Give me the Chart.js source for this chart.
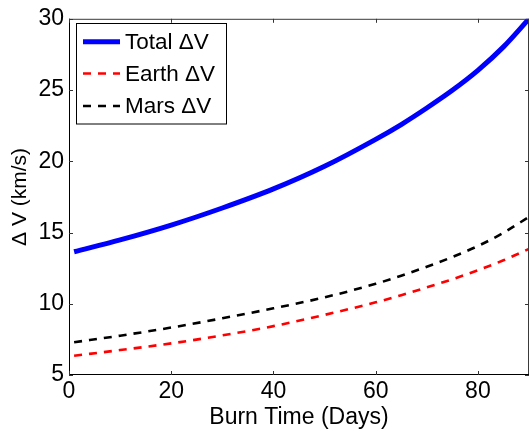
<!DOCTYPE html>
<html>
<head>
<meta charset="utf-8">
<script src="https://cdn.jsdelivr.net/npm/chart.js@4/dist/chart.umd.min.js"></script>
<style>
  html, body { margin: 0; padding: 0; background: #fff; }
  canvas { display: block; }
</style>
</head>
<body>
<canvas id="c" width="529" height="431"></canvas>
<script>
const days  = [1, 10, 20, 30, 40, 50, 60, 65, 70, 75, 80, 85, 90];
const total = [13.65, 14.48, 15.52, 16.72, 18.06, 19.65, 21.54, 22.58, 23.74, 24.98, 26.38, 28.03, 30.0];
const earth = [6.35, 6.75, 7.22, 7.78, 8.43, 9.22, 10.10, 10.60, 11.15, 11.72, 12.35, 13.05, 13.85];
const mars  = [7.30, 7.76, 8.33, 8.98, 9.68, 10.45, 11.40, 11.97, 12.60, 13.28, 14.05, 14.98, 16.10];
const xTicks = [0, 20, 40, 60, 80];
const yTicks = [5, 10, 15, 20, 25, 30];
const labels = ['Total \u0394V', 'Earth \u0394V', 'Mars \u0394V'];

const FONT = '"Liberation Sans", Arial, Helvetica, sans-serif';

function pts(ys) { return days.map((d, i) => ({ x: d, y: ys[i] })); }

const boxPlugin = {
  id: 'boxPlugin',
  afterDraw(chart) {
    const ctx = chart.ctx;
    const a = chart.chartArea;
    const xs = chart.scales.x, ys = chart.scales.y;
    ctx.save();
    ctx.lineWidth = 1;
    ctx.strokeStyle = '#3a3a3a';
    ctx.beginPath();
    ctx.moveTo(a.left, a.top + 0.5); ctx.lineTo(a.right, a.top + 0.5);
    ctx.moveTo(a.right - 0.5, a.top); ctx.lineTo(a.right - 0.5, a.bottom);
    ctx.stroke();
    ctx.strokeStyle = '#000';
    ctx.beginPath();
    ctx.moveTo(a.left + 0.5, a.top); ctx.lineTo(a.left + 0.5, a.bottom);
    ctx.moveTo(a.left, a.bottom - 0.5); ctx.lineTo(a.right, a.bottom - 0.5);
    ctx.stroke();
    const tl = 4;
    ctx.strokeStyle = '#333';
    ctx.beginPath();
    xTicks.forEach(v => {
      const p = Math.round(xs.getPixelForValue(v)) + 0.5;
      ctx.moveTo(p, a.bottom); ctx.lineTo(p, a.bottom - tl);
      ctx.moveTo(p, a.top); ctx.lineTo(p, a.top + tl);
    });
    yTicks.forEach(v => {
      const p = Math.round(ys.getPixelForValue(v)) + 0.5;
      ctx.moveTo(a.left, p); ctx.lineTo(a.left + tl, p);
      ctx.moveTo(a.right, p); ctx.lineTo(a.right - tl, p);
    });
    ctx.stroke();

    const L = 76.5, T = 23.5, W = 150, H = 100.5;
    ctx.fillStyle = '#fff';
    ctx.fillRect(L, T, W, H);
    ctx.strokeStyle = '#000';
    ctx.lineWidth = 1;
    ctx.strokeRect(L, T, W, H);
    const rowY = [41.7, 73.5, 106];
    ctx.font = '22.5px ' + FONT;
    ctx.textBaseline = 'middle';
    ctx.textAlign = 'left';
    chart.data.datasets.forEach((ds, i) => {
      ctx.save();
      ctx.strokeStyle = ds.borderColor;
      ctx.lineWidth = ds.borderWidth;
      ctx.setLineDash(ds.borderDash || []);
      ctx.beginPath();
      ctx.moveTo(83, rowY[i]); ctx.lineTo(120, rowY[i]);
      ctx.stroke();
      ctx.restore();
      ctx.fillStyle = '#000';
      ctx.fillText(ds.label, 125, rowY[i] + 1);
    });
    ctx.restore();
  }
};

new Chart(document.getElementById('c'), {
  type: 'line',
  data: {
    datasets: [
      { label: labels[0], data: pts(total), borderColor: '#0000ff', borderWidth: 5, pointRadius: 0, cubicInterpolationMode: 'monotone', fill: false },
      { label: labels[1], data: pts(earth), borderColor: '#ff0000', borderWidth: 2.6, borderDash: [8, 7], pointRadius: 0, cubicInterpolationMode: 'monotone', fill: false },
      { label: labels[2], data: pts(mars),  borderColor: '#000000', borderWidth: 2.6, borderDash: [8, 7], pointRadius: 0, cubicInterpolationMode: 'monotone', fill: false }
    ]
  },
  options: {
    responsive: false,
    animation: false,
    devicePixelRatio: 1,
    layout: { padding: { top: 17, right: 0, left: 0, bottom: 0 } },
    plugins: { legend: { display: false }, tooltip: { enabled: false } },
    scales: {
      x: {
        type: 'linear', min: 0, max: 90,
        afterFit(s) { s.height = 56; },
        afterBuildTicks(s) { s.ticks = xTicks.map(v => ({ value: v })); },
        ticks: { color: '#000', font: { family: FONT, size: 23 }, padding: 3, maxRotation: 0, includeBounds: false },
        grid: { drawOnChartArea: false, drawTicks: false },
        border: { display: false },
        title: { display: true, text: 'Burn Time (Days)', color: '#000', font: { family: FONT, size: 23 }, padding: { top: 0, bottom: 0 } }
      },
      y: {
        type: 'linear', min: 5, max: 30,
        afterFit(s) { s.width = 69; },
        afterBuildTicks(s) { s.ticks = yTicks.map(v => ({ value: v })); },
        ticks: { color: '#000', font: { family: FONT, size: 23 }, padding: 5 },
        grid: { drawOnChartArea: false, drawTicks: false },
        border: { display: false },
        title: { display: true, text: '\u0394 V (km/s)', color: '#000', font: { family: FONT, size: 21 }, padding: { top: 8, bottom: 0 } }
      }
    }
  },
  plugins: [boxPlugin]
});
</script>
</body>
</html>
